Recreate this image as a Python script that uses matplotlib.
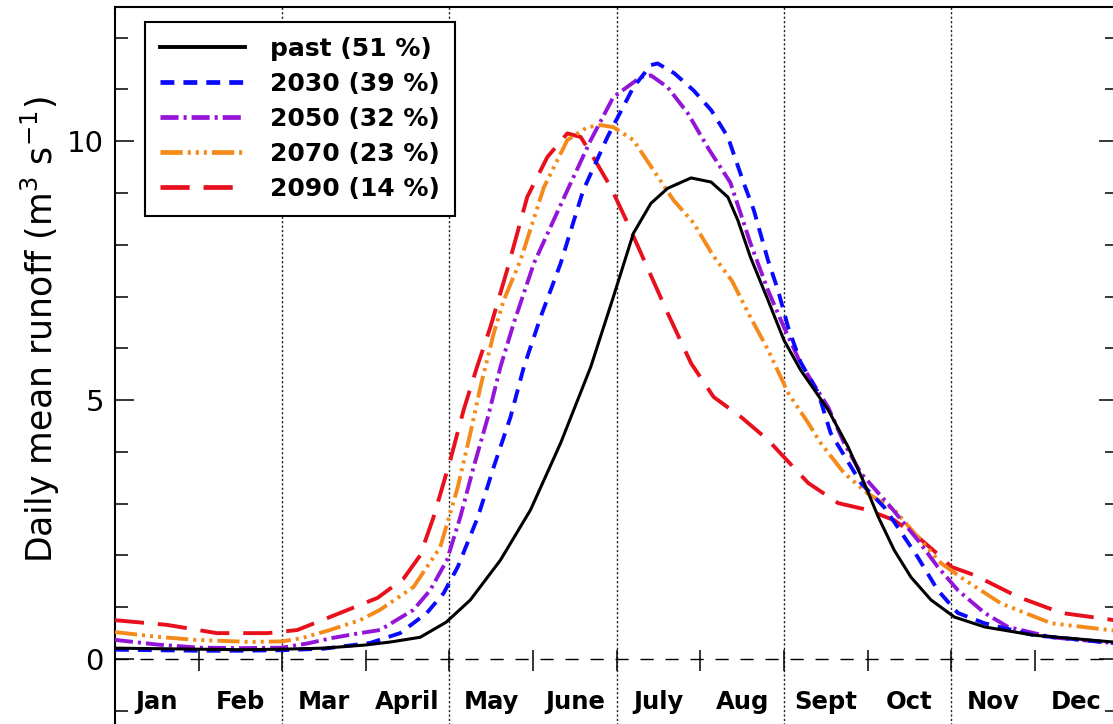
import matplotlib
matplotlib.use("Agg")
import matplotlib.pyplot as plt
from matplotlib.lines import Line2D

plt.rcParams["lines.scale_dashes"] = False
plt.rcParams["mathtext.default"] = "regular"

# month positions (0 = 1 Jan, 12 = 31 Dec) and daily mean runoff (m3/s)
past_x = [0.0, 0.5, 1.0, 1.5, 2.0, 2.5, 2.99, 3.3, 3.65, 3.96, 4.25, 4.61, 4.97,
          5.33, 5.69, 5.96, 6.20, 6.41, 6.61, 6.89, 7.13, 7.33, 7.45, 7.60, 7.81,
          8.0, 8.20, 8.53, 8.77, 8.96, 9.13, 9.32, 9.52, 9.76, 10.04, 10.40,
          10.99, 12.0]
past_y = [0.21, 0.2, 0.19, 0.18, 0.19, 0.21, 0.27, 0.33, 0.42, 0.71, 1.14, 1.91, 2.88,
          4.17, 5.64, 6.99, 8.22, 8.80, 9.09, 9.29, 9.21, 8.92, 8.47, 7.76, 6.93,
          6.16, 5.58, 4.81, 4.09, 3.40, 2.74, 2.10, 1.58, 1.14, 0.81, 0.62,
          0.46, 0.32]

y2030_x = [0.0, 0.5, 1.0, 1.5, 2.0, 2.5, 3.05, 3.41, 3.73, 3.93, 4.10, 4.34, 4.53,
           4.73, 4.89, 5.09, 5.33, 5.60, 5.89, 6.20, 6.41, 6.49, 6.69, 6.92, 7.13,
           7.33, 7.52, 7.64, 7.81, 7.93, 8.05, 8.20, 8.41, 8.56, 8.92, 9.20, 9.36,
           9.60, 9.84, 10.08, 10.40, 10.99, 12.0]
y2030_y = [0.18, 0.17, 0.16, 0.16, 0.17, 0.2, 0.31, 0.50, 0.89, 1.27, 1.78, 2.74, 3.71,
           4.67, 5.64, 6.60, 7.64, 9.05, 10.08, 11.04, 11.47, 11.5, 11.31, 10.98, 10.6,
           10.08, 9.19, 8.67, 7.70, 7.12, 6.41, 5.73, 5.14, 4.36, 3.40, 2.93, 2.55,
           1.97, 1.33, 0.89, 0.69, 0.46, 0.3]

y2050_x = [0.0, 0.5, 1.0, 1.5, 2.0, 2.3, 2.61, 2.93, 3.17, 3.57, 3.77, 3.97, 4.13,
           4.29, 4.46, 4.61, 4.77, 5.01, 5.41, 5.69, 5.96, 6.29, 6.41, 6.61, 6.85,
           7.10, 7.36, 7.60, 7.81, 8.0, 8.2, 8.53, 8.72, 8.92, 9.28, 9.6, 9.84,
           10.08, 10.40, 10.68, 11.2, 12.0]
y2050_y = [0.37, 0.28, 0.22, 0.21, 0.22, 0.3, 0.41, 0.50, 0.56, 0.95, 1.33, 1.91, 2.74,
           3.71, 4.67, 5.64, 6.49, 7.64, 9.05, 10.02, 10.85, 11.24, 11.27, 11.04, 10.54,
           9.85, 9.2, 8.03, 7.12, 6.41, 5.71, 4.86, 4.17, 3.59, 2.93, 2.30, 1.78,
           1.33, 0.89, 0.62, 0.42, 0.3]

y2070_x = [0.0, 0.5, 0.96, 1.62, 2.0, 2.25, 2.57, 2.93, 3.17, 3.57, 3.89, 4.10, 4.25,
           4.37, 4.53, 4.65, 4.85, 5.13, 5.41, 5.65, 5.81, 5.96, 6.20, 6.44, 6.68,
           6.92, 7.15, 7.38, 7.60, 7.81, 8.05, 8.29, 8.44, 8.72, 9.0, 9.32, 9.6,
           9.88, 10.16, 10.6, 11.2, 12.0]
y2070_y = [0.52, 0.43, 0.37, 0.33, 0.34, 0.41, 0.56, 0.75, 0.95, 1.39, 2.16, 3.32, 4.36,
           5.25, 6.29, 6.93, 7.70, 9.11, 10.02, 10.27, 10.31, 10.27, 10.02, 9.44, 8.86,
           8.42, 7.8, 7.3, 6.6, 5.97, 5.14, 4.56, 4.17, 3.59, 3.20, 2.88, 2.36,
           1.85, 1.53, 1.07, 0.69, 0.54]

y2090_x = [0.0, 0.62, 1.22, 1.82, 2.18, 2.57, 3.14, 3.45, 3.65, 3.81, 4.01, 4.17, 4.33,
           4.49, 4.69, 4.93, 5.17, 5.41, 5.57, 5.72, 5.93, 6.13, 6.32, 6.61, 6.89,
           7.16, 7.49, 7.81, 8.29, 8.65, 9.0, 9.32, 9.6, 9.88, 10.0, 10.28, 10.8,
           11.32, 12.0]
y2090_y = [0.75, 0.66, 0.50, 0.50, 0.56, 0.81, 1.18, 1.55, 2.0, 2.74, 3.84, 4.81, 5.64,
           6.41, 7.51, 8.92, 9.69, 10.15, 10.08, 9.69, 9.11, 8.42, 7.73, 6.68, 5.71,
           5.06, 4.67, 4.23, 3.40, 3.01, 2.88, 2.68, 2.36, 1.97, 1.78, 1.62, 1.2,
           0.89, 0.74]

labels = ["past (51 %)", "2030 (39 %)", "2050 (32 %)", "2070 (23 %)", "2090 (14 %)"]
months = ["Jan", "Feb", "Mar", "April", "May", "June",
          "July", "Aug", "Sept", "Oct", "Nov", "Dec"]

series = [
    (past_x, past_y, "black", "-", 2.2),
    (y2030_x, y2030_y, "#0a0aff", (0, (10, 6.5)), 2.8),
    (y2050_x, y2050_y, "#9414d8", (0, (13, 3.6, 2.2, 3.6)), 2.8),
    (y2070_x, y2070_y, "#f58a1a", (0, (16, 3.6, 2.2, 3.6, 2.2, 3.6, 2.2, 3.6)), 2.8),
    (y2090_x, y2090_y, "#e8101c", (0, (21, 10)), 2.8),
]

fig = plt.figure(figsize=(11.13, 7.24), dpi=100)
ax = fig.add_axes([0.1033, -0.0104, 0.9015, 1.0007])
ax.set_xlim(0, 12)
ax.set_ylim(-1.4, 12.59)

# month separators and the zero line with month ticks
for m in range(2, 12, 2):
    ax.axvline(m, color="#222222", lw=1.0, ls=(0, (1.6, 1.6)), zorder=1)
ax.axhline(0, color="black", lw=1.0, ls=(0, (9.5, 8.5)), zorder=1)
ax.vlines(range(1, 12), -0.23, 0.17, color="black", lw=1.1, zorder=1)

handles = []
for x, y, c, ls, lw in reversed(series):
    ax.plot(x, y, color=c, ls=ls, lw=lw, zorder=3)
for x, y, c, ls, lw in series:
    handles.append(Line2D([], [], color=c, ls=ls, lw=lw + 0.6))

for i, name in enumerate(months):
    ax.text(i + 0.5, -0.83, name, ha="center", va="center",
            fontsize=17.5, fontweight="bold")

ax.set_xticks([])
ax.set_yticks([0, 5, 10])
ax.set_yticks(range(-1, 13), minor=True)
ax.tick_params(axis="y", which="both", direction="in", left=True, right=True,
               labelsize=21, pad=8, width=1.1)
ax.tick_params(axis="y", which="major", length=14)
ax.tick_params(axis="y", which="minor", length=9.5)
for side in ["left", "top", "right", "bottom"]:
    ax.spines[side].set_linewidth(1.5)

fig.text(40 / 1113, 1 - 330 / 724, "Daily mean runoff (m$^3$ s$^{-1}$)",
         rotation=90, ha="center", va="center", fontsize=25)

leg = ax.legend(handles, labels, loc="upper left", bbox_to_anchor=(0.030, 0.979),
                borderaxespad=0, prop={"weight": "bold", "size": 18},
                handlelength=3.4, handletextpad=1.0, borderpad=0.6,
                labelspacing=0.44, fancybox=False, framealpha=1)
leg.get_frame().set_edgecolor("black")
leg.get_frame().set_linewidth(1.5)

fig.savefig("out.png", dpi=100)
